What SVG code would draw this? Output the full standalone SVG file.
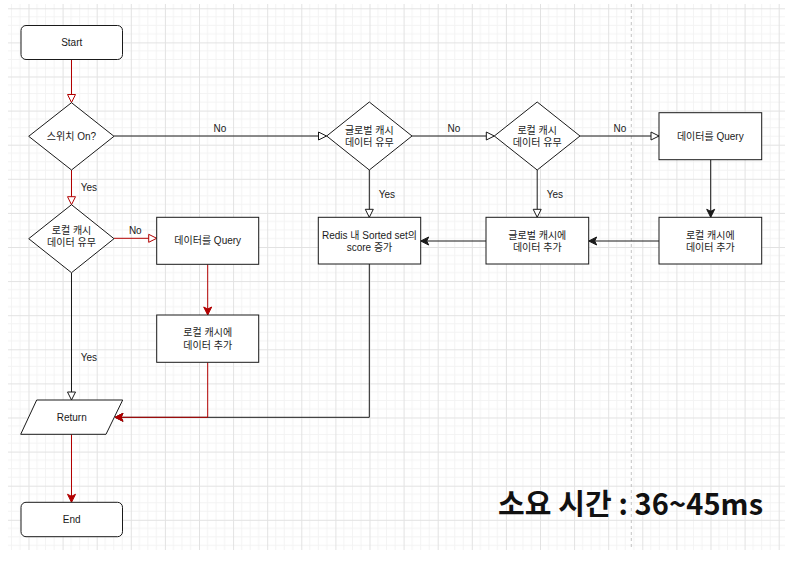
<svg xmlns="http://www.w3.org/2000/svg" width="792" height="566" viewBox="0 0 792 566">
<style>
  text { font-family: "Liberation Sans", "Noto Sans CJK KR", sans-serif; font-size: 10px; fill: #1a1a1a; text-anchor: middle; }
  .node { fill: #ffffff; stroke: #1a1a1a; stroke-width: 1; }
  .edge { fill: none; stroke: #1a1a1a; stroke-width: 1; }
  .red { stroke: #B20000; }
  .big { font-family: "Noto Sans CJK KR", "Liberation Sans", sans-serif; font-size: 29px; font-weight: 700; fill: #111111; text-anchor: start; }
</style>
<defs>
  <pattern id="grid" x="-5.6" y="8.3" width="34.1" height="34.1" patternUnits="userSpaceOnUse">
    <path d="M8.525,0 V34.1 M17.05,0 V34.1 M25.575,0 V34.1 M0,8.525 H34.1 M0,17.05 H34.1 M0,25.575 H34.1" stroke="#f3f3f3" stroke-width="1" fill="none"/>
    <path d="M0.5,0 V34.1 M0,0.5 H34.1" stroke="#e2e2e2" stroke-width="1" fill="none"/>
  </pattern>
  <marker id="openB" markerUnits="userSpaceOnUse" markerWidth="10" markerHeight="10" refX="8" refY="4" orient="auto" overflow="visible">
    <path d="M0,0 L8,4 L0,8 Z" fill="#ffffff" stroke="#1a1a1a" stroke-width="1"/>
  </marker>
  <marker id="openR" markerUnits="userSpaceOnUse" markerWidth="10" markerHeight="10" refX="8" refY="4" orient="auto" overflow="visible">
    <path d="M0,0 L8,4 L0,8 Z" fill="#ffffff" stroke="#B20000" stroke-width="1"/>
  </marker>
  <marker id="fillB" markerUnits="userSpaceOnUse" markerWidth="10" markerHeight="10" refX="8" refY="4" orient="auto" overflow="visible">
    <path d="M0,0 L8,4 L0,8 L2,4 Z" fill="#1a1a1a" stroke="#1a1a1a" stroke-width="1"/>
  </marker>
  <marker id="fillR" markerUnits="userSpaceOnUse" markerWidth="10" markerHeight="10" refX="8" refY="4" orient="auto" overflow="visible">
    <path d="M0,0 L8,4 L0,8 L2,4 Z" fill="#B20000" stroke="#B20000" stroke-width="1"/>
  </marker>
</defs>

<rect x="0" y="0" width="792" height="566" fill="#ffffff"/>
<rect x="8" y="4" width="777" height="546" fill="url(#grid)"/>
<line x1="631.3" y1="4" x2="631.3" y2="550" stroke="#c4c4c4" stroke-width="1" stroke-dasharray="3,3"/>

<g id="connectors">
  <path class="edge red" d="M71.5,59.5 V102.5" marker-end="url(#openR)"/>
  <path class="edge" d="M114,136 H326.5" marker-end="url(#openB)"/>
  <path class="edge" d="M412,136 H494.3" marker-end="url(#openB)"/>
  <path class="edge" d="M580,136 H659" marker-end="url(#openB)"/>
  <path class="edge" d="M710.7,159.7 V217.3" marker-end="url(#fillB)"/>
  <path class="edge" d="M659,241 H588.7" marker-end="url(#fillB)"/>
  <path class="edge" d="M486,241 H420.7" marker-end="url(#fillB)"/>
  <path class="edge" d="M369.3,170 V217.3" marker-end="url(#openB)"/>
  <path class="edge" d="M537.2,170 V217.3" marker-end="url(#openB)"/>
  <path class="edge" d="M369.3,264 V417.3 H115" marker-end="url(#fillB)"/>
  <path class="edge red" d="M71.5,170 V204.7" marker-end="url(#openR)"/>
  <path class="edge red" d="M114,238.3 H156.7" marker-end="url(#openR)"/>
  <path class="edge red" d="M207.7,264.3 V315" marker-end="url(#fillR)"/>
  <path class="edge red" d="M207.7,362.3 V417.3 H115" marker-end="url(#fillR)"/>
  <path class="edge" d="M71.5,272.7 V400" marker-end="url(#openB)"/>
  <path class="edge red" d="M71.5,434.3 V502.3" marker-end="url(#fillR)"/>
  <text x="220" y="131.5">No</text>
  <text x="454" y="131.5">No</text>
  <text x="620" y="131.5">No</text>
  <text x="88.8" y="191">Yes</text>
  <text x="135.3" y="233.5">No</text>
  <text x="386.8" y="198">Yes</text>
  <text x="554.8" y="198">Yes</text>
  <text x="88.8" y="361.3">Yes</text>
</g>

<g id="start">
  <rect class="node" x="21" y="25.5" width="101.5" height="34" rx="5"/>
  <text x="71.7" y="46">Start</text>
</g>
<g id="switch-on">
  <path class="node" d="M71.5,102.7 L114,136.3 L71.5,170 L28.7,136.3 Z"/>
  <text x="71.5" y="139.8">스위치 On?</text>
</g>
<g id="global-cache-check">
  <path class="node" d="M369.3,102 L412,136 L369.3,170 L326.7,136 Z"/>
  <text x="369.3" y="133.5">글로벌 캐시</text>
  <text x="369.3" y="146.2">데이터 유무</text>
</g>
<g id="local-cache-check-right">
  <path class="node" d="M537.2,102 L580,136 L537.2,170 L494.3,136 Z"/>
  <text x="537.2" y="133.5">로컬 캐시</text>
  <text x="537.2" y="146.2">데이터 유무</text>
</g>
<g id="query-right">
  <rect class="node" x="659" y="112.7" width="102.7" height="47"/>
  <text x="710.3" y="139.5">데이터를 Query</text>
</g>
<g id="local-add-right">
  <rect class="node" x="659" y="217.3" width="102.7" height="46.7"/>
  <text x="710.3" y="238.5">로컬 캐시에</text>
  <text x="710.3" y="251">데이터 추가</text>
</g>
<g id="global-add">
  <rect class="node" x="486" y="217.3" width="102.7" height="46.7"/>
  <text x="537.3" y="238.5">글로벌 캐시에</text>
  <text x="537.3" y="251">데이터 추가</text>
</g>
<g id="redis-score">
  <rect class="node" x="318.3" y="217.3" width="102.4" height="46.7"/>
  <text x="369.5" y="238.5">Redis 내 Sorted set의</text>
  <text x="369.5" y="251">score 증가</text>
</g>
<g id="local-cache-check-left">
  <path class="node" d="M71.5,204.7 L114,238.7 L71.5,272.7 L28.7,238.7 Z"/>
  <text x="71.5" y="233.5">로컬 캐시</text>
  <text x="71.5" y="246.2">데이터 유무</text>
</g>
<g id="query-left">
  <rect class="node" x="156.7" y="217.3" width="102" height="47"/>
  <text x="207.7" y="244.2">데이터를 Query</text>
</g>
<g id="local-add-left">
  <rect class="node" x="156.7" y="315" width="102" height="47.3"/>
  <text x="207.7" y="335.8">로컬 캐시에</text>
  <text x="207.7" y="348.5">데이터 추가</text>
</g>
<g id="return">
  <path class="node" d="M36.7,400 H122.7 L106,434.3 H20.7 Z"/>
  <text x="71.7" y="420.5">Return</text>
</g>
<g id="end">
  <rect class="node" x="21" y="502.3" width="101.5" height="34.4" rx="5"/>
  <text x="71.7" y="523">End</text>
</g>

<text class="big" x="498" y="515" textLength="265" lengthAdjust="spacing">소요 시간 : 36~45ms</text>
</svg>
